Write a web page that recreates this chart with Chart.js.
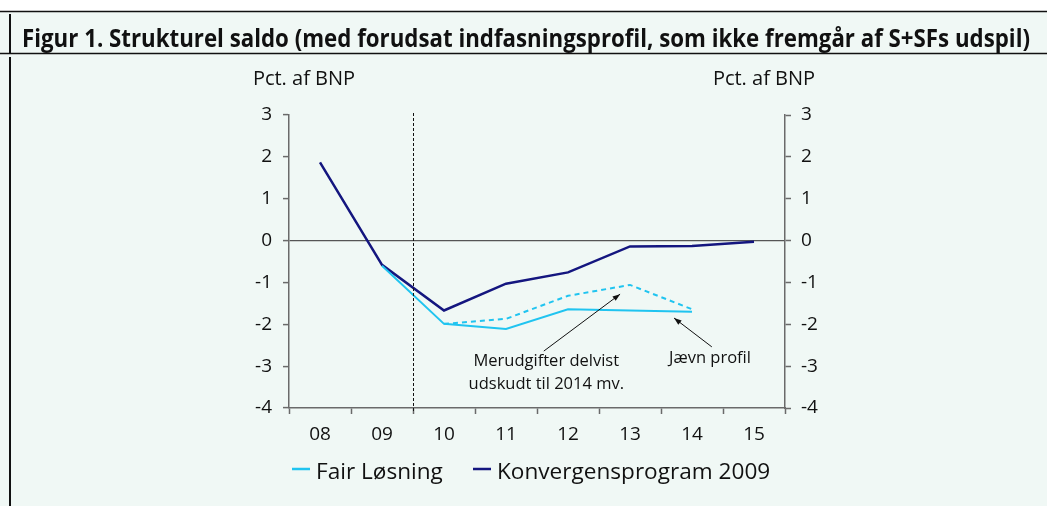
<!DOCTYPE html>
<html>
<head>
<meta charset="utf-8">
<script src="https://cdn.jsdelivr.net/npm/chart.js@4/dist/chart.umd.min.js"></script>
<style>
  html, body { margin: 0; padding: 0; background: #fff; }
  #wrap { width: 1047px; height: 506px; position: relative; }
</style>
</head>
<body>
<div id="wrap"><canvas id="fig"></canvas></div>
<script>
const labels = ['08', '09', '10', '11', '12', '13', '14', '15'];
const konvergensprogram = [1.87, -0.58, -1.67, -1.03, -0.76, -0.14, -0.13, -0.03];
const fairLosning = [null, -0.6, -1.99, -2.11, -1.64, -1.67, -1.70, null];
const udskudt = [null, null, -1.99, -1.87, -1.32, -1.06, -1.64, null];
const yTicks = [-4, -3, -2, -1, 0, 1, 2, 3];

const title = 'Figur 1. Strukturel saldo (med forudsat indfasningsprofil, som ikke fremgår af S+SFs udspil)';
const unit = 'Pct. af BNP';
const navy = '#14167f';
const light = '#20c4f0';
const axisGrey = '#6a6a6a';
const font = "'Open Sans', 'Noto Sans', sans-serif";

// annotations, in data units (category index, value)
const notes = [
  { lines: ['Merudgifter delvist', 'udskudt til 2014 mv.'], x: 3.65, y: [-2.88, -3.43], from: [3.61, -2.64], to: [4.84, -1.28] },
  { lines: ['Jævn profil'], x: 6.29, y: [-2.81], from: [6.32, -2.54], to: [5.71, -1.85] }
];

function arrow(ctx, x1, y1, x2, y2) {
  const a = Math.atan2(y2 - y1, x2 - x1);
  ctx.beginPath();
  ctx.moveTo(x1, y1);
  ctx.lineTo(x2, y2);
  ctx.stroke();
  ctx.beginPath();
  ctx.moveTo(x2, y2);
  ctx.lineTo(x2 - 8 * Math.cos(a - 0.35), y2 - 8 * Math.sin(a - 0.35));
  ctx.lineTo(x2 - 8 * Math.cos(a + 0.35), y2 - 8 * Math.sin(a + 0.35));
  ctx.closePath();
  ctx.fill();
}

const decor = {
  id: 'decor',
  beforeDraw(chart) {
    const ctx = chart.ctx;
    ctx.save();
    ctx.fillStyle = '#f0f8f5';
    ctx.fillRect(0, 12, chart.width, chart.height - 12);
    ctx.strokeStyle = '#111';
    ctx.lineWidth = 1.5;
    ctx.beginPath();
    ctx.moveTo(0, 11.5); ctx.lineTo(chart.width, 11.5);
    ctx.moveTo(0, 53.5); ctx.lineTo(chart.width, 53.5);
    ctx.stroke();
    ctx.lineWidth = 2;
    ctx.beginPath();
    ctx.moveTo(10, 14); ctx.lineTo(10, 53);
    ctx.moveTo(10, 57); ctx.lineTo(10, chart.height);
    ctx.stroke();

    // title, squeezed to the band width
    ctx.fillStyle = '#111';
    ctx.textBaseline = 'alphabetic';
    ctx.textAlign = 'left';
    ctx.font = "bold 25px 'Open Sans', sans-serif";
    const w = ctx.measureText(title).width;
    ctx.save();
    ctx.translate(22, 47);
    ctx.scale(1008 / w, 1);
    ctx.fillText(title, 0, 0);
    ctx.restore();
    ctx.restore();
  },
  afterDraw(chart) {
    const ctx = chart.ctx;
    const xs = chart.scales.x, ys = chart.scales.y, area = chart.chartArea;
    ctx.save();

    // unit labels
    ctx.fillStyle = '#111';
    ctx.font = '20px ' + font;
    ctx.textAlign = 'center';
    ctx.textBaseline = 'middle';
    ctx.fillText(unit, area.left + 15, 79);
    ctx.fillText(unit, area.right - 21, 79);

    // forecast divider between 09 and 10
    const xd = Math.round((xs.getPixelForValue(1) + xs.getPixelForValue(2)) / 2) + 0.5;
    ctx.strokeStyle = '#111';
    ctx.lineWidth = 1;
    ctx.setLineDash([3, 2]);
    ctx.beginPath();
    ctx.moveTo(xd, area.top - 2);
    ctx.lineTo(xd, area.bottom + 4);
    ctx.stroke();
    ctx.setLineDash([]);

    // annotations
    ctx.font = '16.5px ' + font;
    ctx.fillStyle = '#111';
    ctx.lineWidth = 1;
    notes.forEach(n => {
      n.lines.forEach((t, i) => ctx.fillText(t, xs.getPixelForValue(n.x), ys.getPixelForValue(n.y[i])));
      arrow(ctx, xs.getPixelForValue(n.from[0]), ys.getPixelForValue(n.from[1]),
        xs.getPixelForValue(n.to[0]), ys.getPixelForValue(n.to[1]));
    });

    // legend
    ctx.font = '22.6px ' + font;
    ctx.textAlign = 'left';
    ctx.textBaseline = 'alphabetic';
    const items = [
      { ds: chart.data.datasets[0], x: 292 },
      { ds: chart.data.datasets[1], x: 473 }
    ];
    items.forEach(it => {
      ctx.strokeStyle = it.ds.borderColor;
      ctx.lineWidth = 2.5;
      ctx.beginPath();
      ctx.moveTo(it.x, 469); ctx.lineTo(it.x + 18, 469);
      ctx.stroke();
      ctx.fillStyle = '#111';
      ctx.fillText(it.ds.label, it.x + 24, 479);
    });
    ctx.restore();
  }
};

const tickFont = { family: font, size: 19 };

new Chart(document.getElementById('fig'), {
  type: 'line',
  data: {
    labels: labels,
    datasets: [
      { label: 'Fair Løsning', data: fairLosning, borderColor: light, borderWidth: 2, pointRadius: 0, tension: 0 },
      { label: 'Konvergensprogram 2009', data: konvergensprogram, borderColor: navy, borderWidth: 2.5, pointRadius: 0, tension: 0 },
      { label: 'Udskudt', data: udskudt, borderColor: light, borderWidth: 2, borderDash: [5, 4], pointRadius: 0, tension: 0 }
    ]
  },
  options: {
    responsive: true,
    maintainAspectRatio: false,
    animation: false,
    layout: { padding: { top: 115, left: 0, right: 0, bottom: 0 } },
    plugins: { legend: { display: false }, tooltip: { enabled: false } },
    scales: {
      x: {
        type: 'category',
        offset: true,
        grid: { offset: true, drawOnChartArea: false, tickLength: 6, tickColor: axisGrey, tickWidth: 1.5 },
        border: { color: axisGrey, width: 1.5 },
        ticks: { font: tickFont, color: '#111', padding: 9, maxRotation: 0 },
        afterFit: s => { s.height = 98; }
      },
      y: {
        position: 'left',
        min: -4, max: 3,
        afterBuildTicks: s => { s.ticks = yTicks.map(v => ({ value: v })); },
        grid: {
          drawTicks: true, tickLength: 6, tickColor: axisGrey, tickWidth: 1.5,
          color: c => (c.tick && c.tick.value === 0 ? '#555' : 'transparent'),
          lineWidth: 1.2
        },
        border: { color: axisGrey, width: 1.5 },
        ticks: { font: tickFont, color: '#111', padding: 11 },
        afterFit: s => { s.width = 289; }
      },
      y2: {
        position: 'right',
        min: -4, max: 3,
        afterBuildTicks: s => { s.ticks = yTicks.map(v => ({ value: v })); },
        grid: { drawOnChartArea: false, tickLength: 6, tickColor: axisGrey, tickWidth: 1.5 },
        border: { color: axisGrey, width: 1.5 },
        ticks: { font: tickFont, color: '#111', padding: 10 },
        afterFit: s => { s.width = 262; }
      }
    }
  },
  plugins: [decor]
});
</script>
</body>
</html>
